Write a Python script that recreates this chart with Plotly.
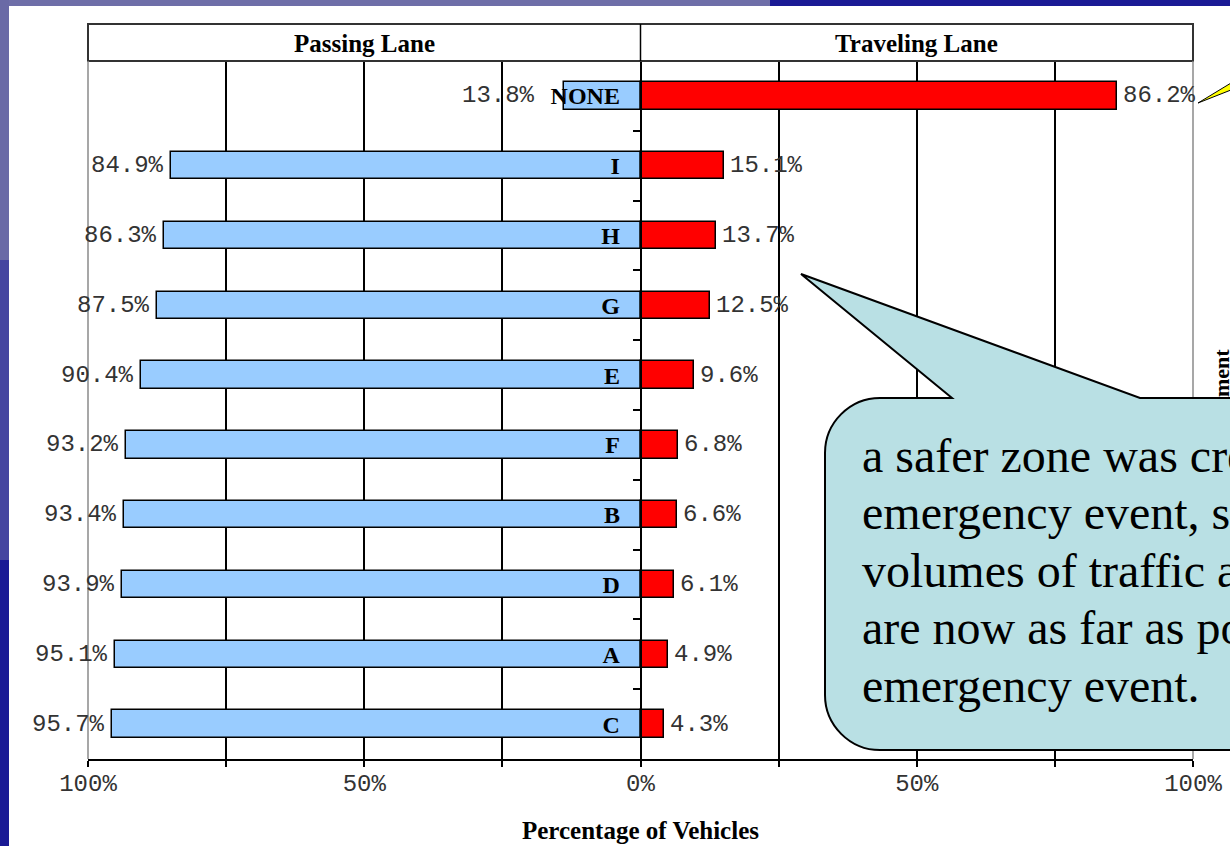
import plotly.graph_objects as go

# Lane use by treatment: share of vehicles in each lane
treatments = ["NONE", "I", "H", "G", "E", "F", "B", "D", "A", "C"]
passing_lane = [13.8, 84.9, 86.3, 87.5, 90.4, 93.2, 93.4, 93.9, 95.1, 95.7]
traveling_lane = [86.2, 15.1, 13.7, 12.5, 9.6, 6.8, 6.6, 6.1, 4.9, 4.3]

tick_values = [-100, -75, -50, -25, 0, 25, 50, 75, 100]
tick_text = ["100%", "", "50%", "", "0%", "", "50%", "", "100%"]

callout_lines = [
    "a safer zone was created around the",
    "emergency event, since the higher",
    "volumes of traffic are in the lanes that",
    "are now as far as possible from the",
    "emergency event.",
]

W, H = 1230, 846


def X(px):
    return px / W


def Y(py):
    return 1 - py / H


SERIF = "Liberation Serif, Times New Roman, serif"
MONO = "Liberation Mono, Courier New, monospace"

fig = go.Figure()

fig.add_trace(go.Bar(
    y=treatments, x=[-v for v in passing_lane], orientation="h",
    width=0.39, marker=dict(color="#99CCFF", line=dict(color="black", width=1.5)),
    name="Passing Lane", showlegend=False, hoverinfo="skip",
))
fig.add_trace(go.Bar(
    y=treatments, x=traveling_lane, orientation="h",
    width=0.39, marker=dict(color="#FF0000", line=dict(color="black", width=1.5)),
    name="Traveling Lane", showlegend=False, hoverinfo="skip",
))

annotations = []
# value labels at the outer end of each bar
for t, p, r in zip(treatments, passing_lane, traveling_lane):
    # the short passing bar sits under the category name, so its label steps clear of it
    shift = -27 if p < 20 else -5
    annotations.append(dict(
        x=-p, y=t, xref="x", yref="y", text=f"{p:.1f}%", showarrow=False,
        xanchor="right", yanchor="middle", xshift=shift,
        font=dict(family=MONO, size=24, color="#333"),
    ))
    annotations.append(dict(
        x=r, y=t, xref="x", yref="y", text=f"{r:.1f}%", showarrow=False,
        xanchor="left", yanchor="middle", xshift=4,
        font=dict(family=MONO, size=24, color="#333"),
    ))

# panel headers
for label, cx in (("Passing Lane", 364), ("Traveling Lane", 916)):
    annotations.append(dict(
        x=X(cx), y=Y(43), xref="paper", yref="paper", text=label,
        xanchor="center", yanchor="middle", showarrow=False,
        font=dict(family=SERIF, size=25, color="black", weight="bold"),
    ))

# side axis caption (mostly hidden behind the callout)
annotations.append(dict(x=X(1221), y=Y(373), xref="paper", yref="paper", text="ment",
                        textangle=-90, xanchor="center", yanchor="middle", showarrow=False,
                        font=dict(family=SERIF, size=22, color="black", weight="bold")))

# callout text, one line per annotation so the line pitch stays tight
for i, line in enumerate(callout_lines):
    annotations.append(dict(
        x=X(860), y=Y(455 + 57.5 * i), xref="paper", yref="paper",
        xanchor="left", yanchor="middle", align="left", text=line, showarrow=False,
        font=dict(family=SERIF, size=48, color="black"),
    ))

# slide background and chart panel
shapes = [
    dict(type="rect", xref="paper", yref="paper", x0=0, x1=X(770), y0=Y(0), y1=Y(6),
         fillcolor="#6E6EA8", line_width=0, layer="below"),
    dict(type="rect", xref="paper", yref="paper", x0=0, x1=X(9), y0=Y(0), y1=Y(260),
         fillcolor="#6A6AA6", line_width=0, layer="below"),
    dict(type="rect", xref="paper", yref="paper", x0=0, x1=X(9), y0=Y(260), y1=Y(560),
         fillcolor="#4545A0", line_width=0, layer="below"),
    dict(type="rect", xref="paper", yref="paper", x0=X(9), x1=1, y0=Y(6), y1=0,
         fillcolor="white", line_width=0, layer="below"),
    # header box
    dict(type="rect", xref="paper", yref="paper", x0=X(88), x1=X(1193), y0=Y(24), y1=Y(61),
         fillcolor="rgba(0,0,0,0)", line=dict(color="#333", width=2)),
    dict(type="line", xref="paper", yref="paper", x0=X(640.5), x1=X(640.5), y0=Y(24), y1=Y(61),
         line=dict(color="black", width=1.5)),
    # outer frame edges
    dict(type="line", xref="paper", yref="paper", x0=X(88), x1=X(88), y0=Y(61), y1=Y(759),
         line=dict(color="#8a8a8a", width=1.5)),
    dict(type="line", xref="paper", yref="paper", x0=X(1193), x1=X(1193), y0=Y(61), y1=Y(759),
         line=dict(color="#8a8a8a", width=1.5)),
]

# rounded callout with its pointer
r = 55
k = 0.55 * r
L, T, B, R = 825, 398, 750, 1300
callout = (
    f"M {X(952)},{Y(T)} L {X(801)},{Y(274)} L {X(1140)},{Y(T)} L {X(R)},{Y(T)} "
    f"L {X(R)},{Y(B)} L {X(L + r)},{Y(B)} "
    f"C {X(L + r - k)},{Y(B)} {X(L)},{Y(B - r + k)} {X(L)},{Y(B - r)} "
    f"L {X(L)},{Y(T + r)} "
    f"C {X(L)},{Y(T + r - k)} {X(L + r - k)},{Y(T)} {X(L + r)},{Y(T)} Z"
)
shapes.append(dict(type="path", xref="paper", yref="paper", path=callout,
                   fillcolor="#B9E0E4", line=dict(color="black", width=2), layer="above"))

# yellow pointer coming in from the right
shapes.append(dict(type="path", xref="paper", yref="paper",
                   path=f"M {X(1198)},{Y(103)} L {X(1236)},{Y(80)} L {X(1236)},{Y(88)} Z",
                   fillcolor="#FFFF00", line=dict(color="black", width=1), layer="above"))

fig.update_layout(
    width=W, height=H, autosize=False,
    margin=dict(l=0, r=0, t=0, b=0, autoexpand=False),
    paper_bgcolor="#1A1A95", plot_bgcolor="white",
    barmode="overlay", bargap=0,
    shapes=shapes, annotations=annotations,
    xaxis=dict(
        domain=[X(88), X(1193)], range=[-100, 100],
        tickmode="array", tickvals=tick_values, ticktext=tick_text,
        showgrid=True, gridcolor="black", gridwidth=1.5, zeroline=False,
        showline=True, linecolor="black", linewidth=1.5,
        ticks="outside", ticklen=6, tickwidth=1.5, tickcolor="black",
        tickfont=dict(family=MONO, size=24, color="#333"),
        ticklabelstandoff=-5, automargin=False,
        title=dict(text="Percentage of Vehicles", standoff=25,
                   font=dict(family=SERIF, size=25, color="black", weight="bold")),
        fixedrange=True,
    ),
    yaxis=dict(
        domain=[Y(759), Y(61)], anchor="free", position=X(640.5),
        type="category", categoryorder="array", categoryarray=treatments,
        autorange="reversed",
        showgrid=False, zeroline=False,
        showline=True, linecolor="black", linewidth=1.5,
        ticks="outside", ticklen=7, tickwidth=1.5, tickcolor="black",
        tickson="boundaries",
        tickfont=dict(family=SERIF, size=24, color="black", weight="bold"),
        ticklabelstandoff=15, automargin=False,
        fixedrange=True,
    ),
)

fig.write_html("out.html")
